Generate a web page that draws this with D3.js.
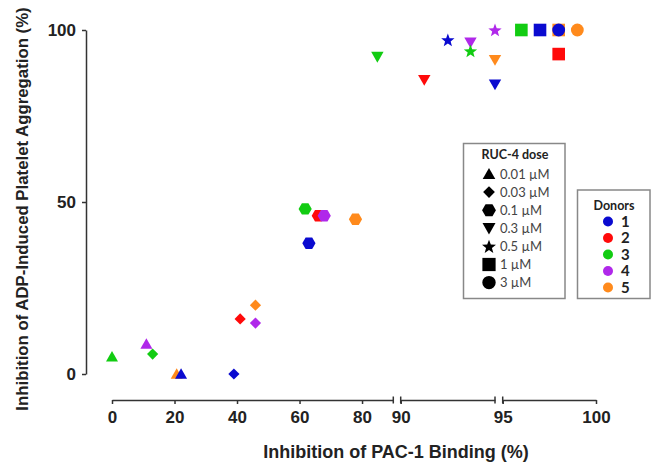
<!DOCTYPE html>
<html>
<head>
<meta charset="utf-8">
<script src="https://cdn.jsdelivr.net/npm/d3@7"></script>
<style>
  body { margin: 0; background: #fff; }
  svg { display: block; }
  .axis path, .axis line { stroke: #333; stroke-width: 1.5; }
  .axis text { font-family: "Liberation Sans", Arial, sans-serif; font-weight: bold; font-size: 17px; fill: #222; }
</style>
</head>
<body>
<svg id="chart" width="652" height="462"></svg>
<script>
// RUC-4 dose categories and donors
const doseLabels = ['0.01 \u00b5M', '0.03 \u00b5M', '0.1 \u00b5M', '0.3 \u00b5M', '0.5 \u00b5M', '1 \u00b5M', '3 \u00b5M']
const donorLabels = ['1', '2', '3', '4', '5']

// one entry per point (draw order as in the figure)
const pointDose = [0, 0, 0, 0, 1, 1, 1, 1, 1, 2, 2, 2, 2, 2, 3, 3, 3, 3, 3, 4, 4, 4, 5, 5, 5, 5, 6, 6]
const pointDonor = [3, 4, 5, 1, 3, 1, 2, 5, 4, 1, 3, 2, 4, 5, 3, 2, 4, 5, 1, 1, 3, 4, 3, 1, 5, 2, 1, 5]
const pac1Binding = [0, 11, 20.7, 22.1, 13, 39, 41, 45.9, 45.9, 63, 61.8, 66, 67.9, 77.9,
    84.9, 91.25, 93.7, 95, 95, 92.5, 93.7, 95, 96, 97, 98, 98, 98, 99]
const adpAggregation = [5, 8.7, 0, 0, 5.8, 0, 16, 20, 14.8, 38, 48, 46, 46, 45,
    92.2, 85.5, 96.4, 91.3, 84.2, 97.1, 93.9, 100, 100, 100, 100, 93, 100, 100]

// broken x axis: three pieces
const xTicksA = [0, 20, 40, 60, 80]
const xTicksB = [90]
const xTicksC = [95, 100]
const yTicks = [0, 50, 100]

const donorColors = ['#0a0ad0', '#ff0a0a', '#12cc12', '#b028ea', '#ff8a1c']

const svg = d3.select('#chart')

const xA = d3.scaleLinear().domain([0, 90]).range([112, 393.3])
const xB = d3.scaleLinear().domain([90, 95]).range([400.7, 495])
const xC = d3.scaleLinear().domain([95, 100]).range([502.7, 596])
const x = v => v < 90 ? xA(v) : v <= 95 ? xB(v) : xC(v)
const y = d3.scaleLinear().domain([0, 100]).range([374, 30])

// custom marker shapes, size = r*r
function poly(pts) {
    return {
        draw(ctx, size) {
            const r = Math.sqrt(size)
            ctx.moveTo(pts[0][0] * r, pts[0][1] * r)
            pts.slice(1).forEach(p => ctx.lineTo(p[0] * r, p[1] * r))
            ctx.closePath()
        }
    }
}
const hexPts = d3.range(6).map(i => [Math.cos(i * Math.PI / 3), Math.sin(i * Math.PI / 3)])
const starPts = d3.range(10).map(i => {
    const a = -Math.PI / 2 + i * Math.PI / 5
    const k = i % 2 ? 0.42 : 1
    return [k * Math.cos(a), k * Math.sin(a) + 0.08]
})
const circleType = { draw(ctx, size) { const r = Math.sqrt(size); ctx.moveTo(r, 0); ctx.arc(0, 0, r, 0, 2 * Math.PI) } }
const shapes = [
    { type: poly([[0, -0.95], [1, 0.8], [-1, 0.8]]), r: 6 },
    { type: poly([[0, -1], [1, 0], [0, 1], [-1, 0]]), r: 5.6 },
    { type: poly(hexPts), r: 6.6 },
    { type: poly([[0, 0.95], [1, -0.8], [-1, -0.8]]), r: 6.2 },
    { type: poly(starPts), r: 7 },
    { type: poly([[-1, -1], [1, -1], [1, 1], [-1, 1]]), r: 6.3 },
    { type: circleType, r: 6.4 }
]
const symbolFor = (dose, scale) => d3.symbol().type(shapes[dose].type).size(Math.pow(shapes[dose].r * scale, 2))()

// axes
svg.append('g').attr('class', 'axis').attr('transform', 'translate(86,0)')
    .call(d3.axisLeft(y).tickValues(yTicks).tickSize(4).tickSizeOuter(0).tickPadding(6))

const axisY = 400
const pieces = [[xA, xTicksA], [xB, xTicksB], [xC, xTicksC]]
pieces.forEach(([sc, ticks]) => {
    svg.append('g').attr('class', 'axis').attr('transform', `translate(0,${axisY})`)
        .call(d3.axisBottom(sc).tickValues(ticks).tickFormat(d3.format('d'))
            .tickSize(4).tickSizeOuter(0).tickPadding(7))
})
// break marks
const breaks = [xA(90), xB(90), xB(95), xC(95)]
svg.selectAll('.brk').data(breaks).enter().append('line')
    .attr('x1', d => d).attr('x2', d => d)
    .attr('y1', axisY - 3.5).attr('y2', axisY + 3.5)
    .attr('stroke', '#333').attr('stroke-width', 1.5)

// axis titles
svg.append('text')
    .attr('x', 396).attr('y', 458)
    .attr('text-anchor', 'middle')
    .style('font-family', '"Liberation Sans", Arial, sans-serif')
    .style('font-weight', 'bold').style('font-size', '18px').style('fill', '#222')
    .text('Inhibition of PAC-1 Binding (%)')
svg.append('text')
    .attr('transform', 'translate(28,209) rotate(-90)')
    .attr('text-anchor', 'middle')
    .style('font-family', '"Liberation Sans", Arial, sans-serif')
    .style('font-weight', 'bold').style('font-size', '16.8px').style('fill', '#222')
    .text('Inhibition of ADP-Induced Platelet Aggregation (%)')

// points
svg.append('g').selectAll('path')
    .data(pac1Binding.map((v, i) => ({ x: v, y: adpAggregation[i], dose: pointDose[i], donor: pointDonor[i] })))
    .enter().append('path')
    .attr('transform', d => `translate(${x(d.x)},${y(d.y)})`)
    .attr('d', d => symbolFor(d.dose, 1))
    .attr('fill', d => donorColors[d.donor - 1])

// dose legend
const leg1 = svg.append('g')
leg1.append('rect').attr('x', 463.5).attr('y', 143.5).attr('width', 101.5).attr('height', 155)
    .attr('fill', '#fff').attr('stroke', '#888').attr('stroke-width', 1.5)
leg1.append('text').attr('x', 515).attr('y', 159).attr('text-anchor', 'middle')
    .style('font-family', 'Lato, sans-serif').style('font-weight', 'bold').style('font-size', '12.5px').style('fill', '#222')
    .text('RUC-4 dose')
const doseRow = leg1.selectAll('.dose').data(doseLabels).enter().append('g')
    .attr('transform', (d, i) => `translate(489,${174 + i * 18.1})`)
doseRow.append('path').attr('d', (d, i) => symbolFor(i, 1.05)).attr('fill', '#000')
doseRow.append('text').attr('x', 11).attr('dy', '0.35em')
    .style('font-family', 'Lato, sans-serif').style('font-size', '13px').style('fill', '#444')
    .text(d => d)

// donor legend
const leg2 = svg.append('g')
leg2.append('rect').attr('x', 577.5).attr('y', 190).attr('width', 72.5).attr('height', 108.5)
    .attr('fill', '#fff').attr('stroke', '#888').attr('stroke-width', 1.5)
leg2.append('text').attr('x', 614).attr('y', 210).attr('text-anchor', 'middle')
    .style('font-family', 'Lato, sans-serif').style('font-weight', 'bold').style('font-size', '12.5px').style('fill', '#222')
    .text('Donors')
const donorRow = leg2.selectAll('.donor').data(donorLabels).enter().append('g')
    .attr('transform', (d, i) => `translate(608,${221.5 + i * 16.5})`)
donorRow.append('circle').attr('r', 5).attr('fill', (d, i) => donorColors[i])
donorRow.append('text').attr('x', 13).attr('dy', '0.36em')
    .style('font-family', 'Lato, sans-serif').style('font-weight', 'bold').style('font-size', '15px').style('fill', '#222')
    .text(d => d)
</script>
</body>
</html>
